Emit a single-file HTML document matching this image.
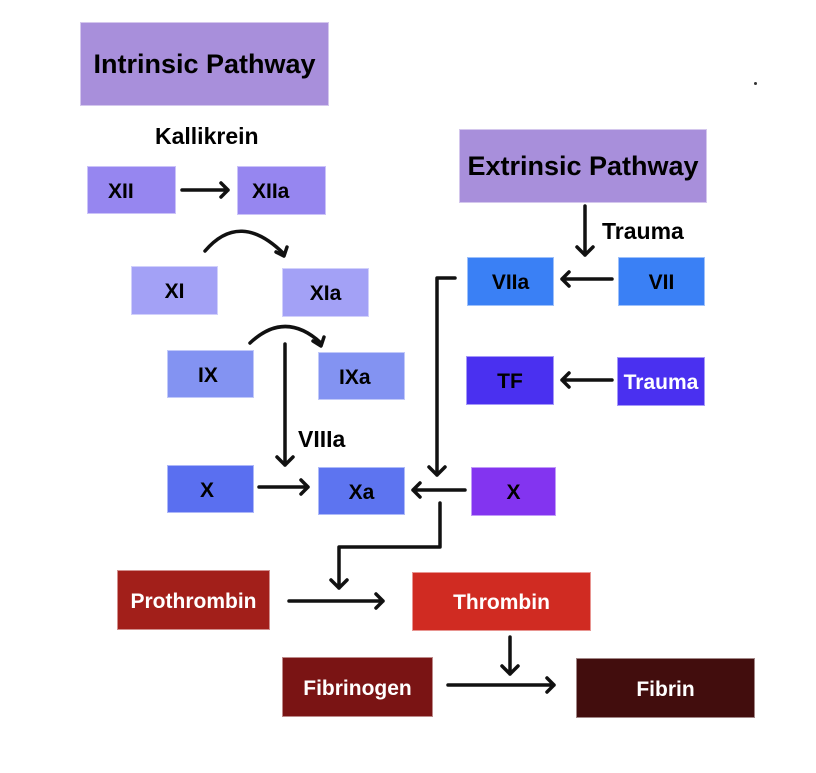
<!DOCTYPE html>
<html><head><style>
body{margin:0;width:816px;height:773px;background:#fff;position:relative;overflow:hidden;font-family:"Liberation Sans",sans-serif;font-weight:bold}
.b{position:absolute;display:flex;align-items:center;justify-content:center;font-size:21px;color:#000;box-sizing:border-box;border:1px solid rgba(255,255,255,.5);padding-top:3px}
.w{color:#fff}
.t{position:absolute;font-size:23px}
svg{position:absolute;left:0;top:0}
</style></head><body>
<div class="b" style="left:80px;top:22px;width:249px;height:84px;background:#a88fdb;font-size:27px;padding-top:0">Intrinsic Pathway</div>
<div class="t" style="left:155px;top:123px">Kallikrein</div>
<div class="b" style="left:87px;top:166px;width:89px;height:48px;background:#9686f0;justify-content:flex-start;padding-left:20px">XII</div>
<div class="b" style="left:237px;top:166px;width:89px;height:49px;background:#9686f0;justify-content:flex-start;padding-left:14px">XIIa</div>
<div class="b" style="left:131px;top:266px;width:87px;height:49px;background:#a3a1f6">XI</div>
<div class="b" style="left:282px;top:268px;width:87px;height:49px;background:#a3a1f6">XIa</div>
<div class="b" style="left:167px;top:350px;width:87px;height:48px;background:#8393f2;justify-content:flex-start;padding-left:30px">IX</div>
<div class="b" style="left:318px;top:352px;width:87px;height:48px;background:#8393f2;justify-content:flex-start;padding-left:20px">IXa</div>
<div class="t" style="left:298px;top:426px">VIIIa</div>
<div class="b" style="left:167px;top:465px;width:87px;height:48px;background:#5a6ff0;justify-content:flex-start;padding-left:32px">X</div>
<div class="b" style="left:318px;top:467px;width:87px;height:48px;background:#5d74f0">Xa</div>
<div class="b" style="left:471px;top:467px;width:85px;height:49px;background:#8334f0">X</div>
<div class="b" style="left:459px;top:129px;width:248px;height:74px;background:#a88fdb;font-size:27px;padding-top:0">Extrinsic Pathway</div>
<div class="t" style="left:602px;top:218px">Trauma</div>
<div class="b" style="left:467px;top:257px;width:87px;height:49px;background:#3a80f5">VIIa</div>
<div class="b" style="left:618px;top:257px;width:87px;height:49px;background:#3a80f5">VII</div>
<div class="b" style="left:466px;top:356px;width:88px;height:49px;background:#4a30f0">TF</div>
<div class="b w" style="left:617px;top:357px;width:88px;height:49px;background:#4a30f0">Trauma</div>
<div class="b w" style="left:117px;top:570px;width:153px;height:60px;background:#a21f1a">Prothrombin</div>
<div class="b w" style="left:412px;top:572px;width:179px;height:59px;background:#d02b22">Thrombin</div>
<div class="b w" style="left:282px;top:657px;width:151px;height:60px;background:#7a1414">Fibrinogen</div>
<div class="b w" style="left:576px;top:658px;width:179px;height:60px;background:#420d0d">Fibrin</div>
<div style="position:absolute;left:754px;top:82px;width:3px;height:3px;background:#333;border-radius:50%"></div>
<svg width="816" height="773" fill="none" stroke="#111" stroke-width="3.5" stroke-linecap="round" stroke-linejoin="round">
<path d="M182 190H228M221 183L228 190L221 197"/>
<path d="M205 251Q240 210 284 254M276 252L284 256L287 247"/>
<path d="M250 343Q285 310 321 343M313 341L321 346L324 337"/>
<path d="M285 344V465M277 457L285 465L293 457"/>
<path d="M259 487H308M301 480L308 487L301 494"/>
<path d="M465 490H413M420 483L413 490L420 497"/>
<path d="M455 278H437V475M429 467L437 475L445 467"/>
<path d="M440 503V547H339V588M331 580L339 588L347 580"/>
<path d="M585 206V255M577 247L585 255L593 247"/>
<path d="M612 279H562M569 272L562 279L569 286"/>
<path d="M612 380H562M569 373L562 380L569 387"/>
<path d="M289 601H383M376 594L383 601L376 608"/>
<path d="M510 637V674M502 666L510 674L518 666"/>
<path d="M448 685H554M547 678L554 685L547 692"/>
</svg>
</body></html>
